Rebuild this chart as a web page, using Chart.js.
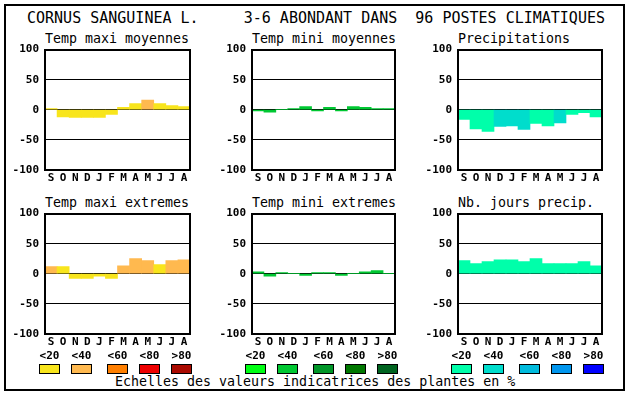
<!DOCTYPE html>
<html>
<head>
<meta charset="utf-8">
<script src="https://cdn.jsdelivr.net/npm/chart.js@4"></script>
<style>
  body { margin:0; background:#fff; width:630px; height:394px; position:relative; overflow:hidden;
         font-family:"DejaVu Sans Mono", monospace; color:#000; }
  #frame { position:absolute; left:4px; top:4px; width:621px; height:387px; box-sizing:border-box; border:2px solid #000; }
  .t { position:absolute; white-space:pre; line-height:16px; }
  .title { font-size:15px; }
  .sub { font-size:13.3px; }
  .lab { font-size:11px; font-weight:bold; width:40px; text-align:center; }
  .sw { position:absolute; width:21px; height:10px; box-sizing:border-box; border:1px solid #000; }
  canvas { position:absolute; }
</style>
</head>
<body>
<div id="frame"></div>
<div class="t title" style="left:27px;top:10px;">CORNUS SANGUINEA L.     3-6 ABONDANT DANS  96 POSTES CLIMATIQUES</div>
<div class="t sub" style="left:115px;top:374px;">Echelles des valeurs indicatrices des plantes en %</div>

<script>
// months and values (% scale)
var months = ['S','O','N','D','J','F','M','A','M','J','J','A'];
var yTicks = [100, 50, 0, -50, -100];

var titles = ['Temp maxi moyennes', 'Temp mini moyennes', 'Precipitations',
              'Temp maxi extremes', 'Temp mini extremes', 'Nb. jours precip.'];

var tmaxMoy = [2, -12, -13, -13, -13, -8, 4, 10, 16, 10, 7, 5];
var tminMoy = [-2, -4, 0, 2, 5, -2, 4, -2, 5, 4, 2, 2];
var precip  = [-16, -32, -36, -28, -27, -33, -23, -27, -22, -8, -5, -12];
var tmaxExt = [12, 12, -8, -8, -4, -8, 13, 25, 22, 15, 22, 23];
var tminExt = [3, -4, 2, 0, -3, 2, 2, -3, 0, 3, 5, 0];
var nbJours = [22, 17, 20, 23, 23, 20, 25, 17, 17, 17, 20, 13];

// class of each bar (index in the legend scale)
var tmaxMoyCls = [0,0,0,0,0,0,0,0,1,0,0,0];
var tminMoyCls = [1,1,1,1,1,1,1,1,1,1,1,1];
var precipCls  = [0,0,0,1,1,1,0,0,1,0,0,0];
var tmaxExtCls = [1,0,0,0,0,0,1,1,1,0,1,1];
var tminExtCls = [1,1,1,1,1,1,1,1,1,1,1,1];
var nbJoursCls = [0,0,0,0,0,0,0,0,0,0,0,0];

var legendLabels = ['<20', '<40', '<60', '<80', '>80'];

var warm  = ['#f8e51c', '#ffb94f', '#ff7f00', '#ee0000', '#aa0a00'];
var green = ['#00ff14', '#00c832', '#009628', '#007800', '#006420'];
var blue  = ['#00ffaa', '#00ddcc', '#00bbdd', '#0096ee', '#0000ff'];

var series = [tmaxMoy, tminMoy, precip, tmaxExt, tminExt, nbJours];
var classes = [tmaxMoyCls, tminMoyCls, precipCls, tmaxExtCls, tminExtCls, nbJoursCls];
var palettes = [warm, green, blue, warm, green, blue];

Chart.defaults.font.family = '"DejaVu Sans Mono", monospace';
Chart.defaults.color = '#000';

const boxPlugin = {
  id: 'box',
  afterDraw(c) {
    const a = c.chartArea, ctx = c.ctx;
    ctx.save();
    ctx.strokeStyle = '#000';
    ctx.lineWidth = 2;
    ctx.strokeRect(Math.round(a.left), Math.round(a.top), Math.round(a.right - a.left), Math.round(a.bottom - a.top));
    ctx.restore();
  }
};

var plotLeft = [45, 252, 458];
var plotW = [145, 143, 144];
var plotTop = [50, 214];
var plotH = 120;

for (let i = 0; i < 6; i++) {
  const col = i % 3, row = Math.floor(i / 3);

  var sub = document.createElement('div');
  sub.className = 't sub';
  sub.style.left = plotLeft[col] + 'px';
  sub.style.top = (plotTop[row] - 19) + 'px';
  sub.textContent = titles[i];
  document.body.appendChild(sub);

  const cv = document.createElement('canvas');
  cv.width = 200;
  cv.height = 150;
  document.body.appendChild(cv);

  const chart = new Chart(cv, {
    type: 'bar',
    data: {
      labels: months,
      datasets: [{
        data: series[i],
        backgroundColor: classes[i].map(k => palettes[i][k]),
        borderWidth: 0,
        barPercentage: 1,
        categoryPercentage: 1
      }]
    },
    options: {
      responsive: false,
      maintainAspectRatio: false,
      animation: false,
      layout: { padding: { top: 8, right: 2, left: 0, bottom: 2 } },
      plugins: { legend: { display: false }, tooltip: { enabled: false } },
      scales: {
        x: {
          grid: { display: false, drawTicks: false },
          border: { display: false },
          ticks: { autoSkip: false, maxRotation: 0, minRotation: 0, padding: 2, font: { size: 11, weight: 'bold' } }
        },
        y: {
          min: -100, max: 100,
          z: 1,
          afterBuildTicks: s => { s.ticks = yTicks.map(v => ({ value: v })); },
          grid: { color: '#000', lineWidth: 1, drawTicks: false },
          border: { display: false },
          ticks: { padding: 6, font: { size: 11, weight: 'bold' }, callback: v => String(v) },
          afterFit: s => { s.width = 45; }
        }
      }
    },
    plugins: [boxPlugin]
  });

  // resize so the plot box gets the measured size, then place it
  for (let k = 0; k < 2; k++) {
    const a = chart.chartArea;
    const w = chart.width + plotW[col] - Math.round(a.right - a.left);
    const h = chart.height + plotH - Math.round(a.bottom - a.top);
    chart.resize(w, h);
  }
  const a = chart.chartArea;
  cv.style.left = (plotLeft[col] - Math.round(a.left)) + 'px';
  cv.style.top = (plotTop[row] - Math.round(a.top)) + 'px';
}

// legend swatches
var swLeft = [[39, 71, 107, 139, 171], [245, 277, 313, 345, 377], [451, 483, 519, 551, 583]];
var swPal = [warm, green, blue];
for (let g = 0; g < 3; g++) {
  for (let k = 0; k < 5; k++) {
    var lab = document.createElement('div');
    lab.className = 't lab';
    lab.style.left = (swLeft[g][k] + 10.5 - 20) + 'px';
    lab.style.top = '348px';
    lab.textContent = legendLabels[k];
    document.body.appendChild(lab);

    var sw = document.createElement('div');
    sw.className = 'sw';
    sw.style.left = swLeft[g][k] + 'px';
    sw.style.top = '364px';
    sw.style.background = swPal[g][k];
    document.body.appendChild(sw);
  }
}
</script>
</body>
</html>
